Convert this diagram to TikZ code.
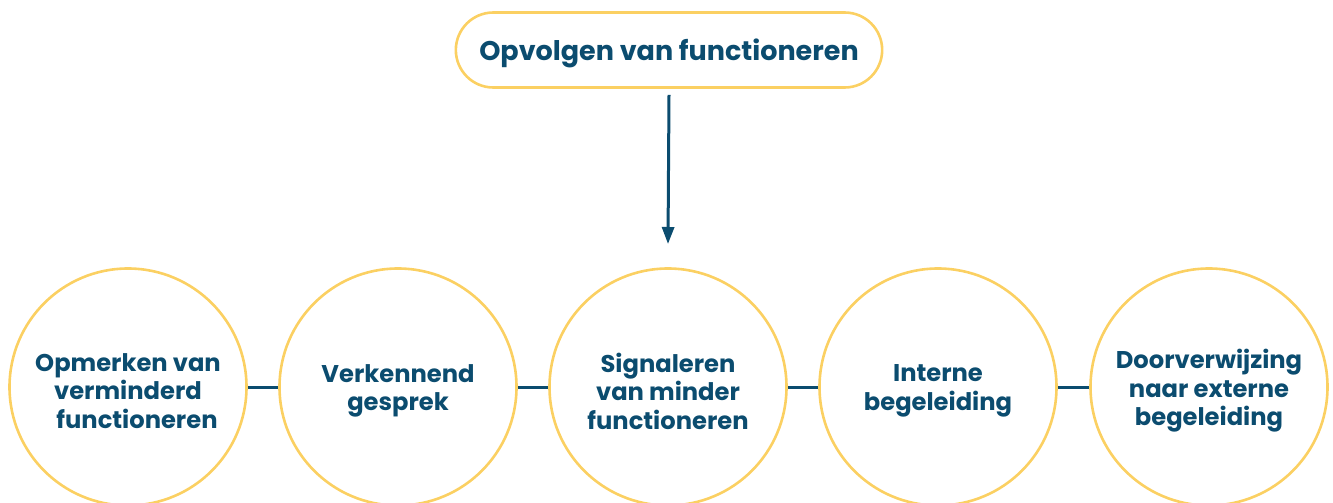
\documentclass[tikz,border=0pt]{standalone}
\usepackage{fontspec}
\setmainfont{Poppins}[BoldFont={* Bold}]
\usetikzlibrary{arrows.meta,shapes.misc}

\definecolor{geel}{HTML}{FBD062}
\definecolor{donkerblauw}{HTML}{0B4C6F}

\tikzset{
	stap/.style={circle, draw=geel, line width=2.6pt, minimum size=237pt, inner sep=0pt},
	staptekst/.style={align=center, text=donkerblauw, font=\fontsize{24.2}{28.5}\selectfont\bfseries},
	kop/.style={rounded rectangle, draw=geel, line width=2.6pt, minimum width=433pt,
		minimum height=75pt, text height=27pt, text depth=6.5pt,
		text=donkerblauw, font=\fontsize{27}{30}\selectfont\bfseries},
	verbinding/.style={draw=donkerblauw, line width=3pt},
}

\begin{document}
\begin{tikzpicture}[x=1pt,y=-1pt]
	\useasboundingbox (0,0) rectangle (1333,503);
	\clip (0,0) rectangle (1333,503);

	\node (opvolgen)[kop] at (669,50) {Opvolgen van functioneren};

	\node (opmerken)[stap] at (128,387) {};
	\node (verkennend)[stap] at (398,387) {};
	\node (signaleren)[stap] at (668,387) {};
	\node (intern)[stap] at (938,387) {};
	\node (extern)[stap] at (1209,387) {};

	\node (opmerkentekst)[staptekst] at ([yshift=-4pt]opmerken.center) {Opmerken van\\verminderd\\\hspace*{18pt}functioneren};
	\node (verkennendtekst)[staptekst] at ([yshift=-4pt]verkennend.center) {Verkennend\\gesprek};
	\node (signalerentekst)[staptekst] at ([yshift=-4pt]signaleren.center) {Signaleren\\van minder\\functioneren};
	\node (interntekst)[staptekst] at ([yshift=-4pt]intern.center) {Interne\\begeleiding};
	\node (externtekst)[staptekst] at ([yshift=-4pt]extern.center) {Doorverwijzing\\naar externe\\begeleiding};

	\coordinate (pijlpunt) at (668,244);

	% pijl naar het midden
	\draw [verbinding, -{Triangle[width=12pt,length=17pt]}] (opvolgen.south) ++(0,6) coordinate (pijlstart) -- (pijlpunt);

	% lijnen tussen de stappen
	\draw [verbinding] (opmerken) -- (verkennend);
	\draw [verbinding] (verkennend) -- (signaleren);
	\draw [verbinding] (signaleren) -- (intern);
	\draw [verbinding] (intern) -- (extern);
\end{tikzpicture}
\end{document}
